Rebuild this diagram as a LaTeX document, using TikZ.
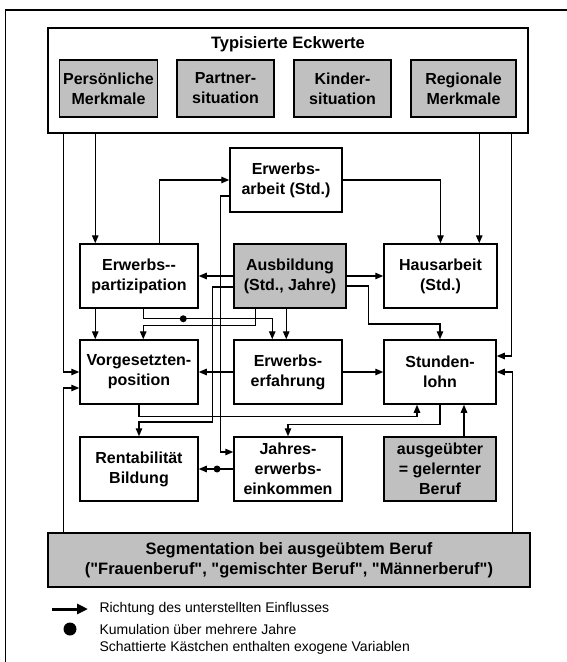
\documentclass[tikz,border=0pt]{standalone}
\usepackage{fontspec}
\setmainfont{Liberation Sans}[Ligatures=TeXOff]
\usetikzlibrary{arrows.meta}
\definecolor{exogray}{RGB}{192,192,192}
\begin{document}
\begin{tikzpicture}[x=1pt,y=-1pt,
  box/.style={shape=rectangle,draw=black,fill=white,line width=1.5pt,inner sep=0pt,align=center,font=\fontsize{16}{20}\selectfont\bfseries},
  exo/.style={box,fill=exogray},
  arr/.style={-{Triangle[length=8pt,width=6.5pt]},line width=1.3pt},
  kumul/.style={shape=circle,fill=black,inner sep=0pt,minimum size=7pt},
  legtext/.style={anchor=west,font=\fontsize{14}{16}\selectfont}]
\useasboundingbox (0,0) rectangle (567,662);
\draw[line width=1.5pt] (5.5,662) -- (5.5,10) -- (567,10);

% Eckwerte
\node[box,minimum width=480,minimum height=105] (t) at (288,80.5) {};
\node[font=\fontsize{16.5}{20}\selectfont\bfseries] (tt) at (288,44) {Typisierte Eckwerte};
\node[exo,minimum width=98,minimum height=57] (pm) at (108.5,88.5) {Persönliche\\Merkmale};
\node[exo,minimum width=97,minimum height=57] (ps) at (225.5,88.5) {Partner-\\situation};
\node[exo,minimum width=97,minimum height=57] (ks) at (342.5,88.5) {Kinder-\\situation};
\node[exo,minimum width=105,minimum height=57] (rm) at (463.5,88.5) {Regionale\\Merkmale};

% Kaestchen
\node[box,minimum width=112,minimum height=64] (ea) at (286,180) {Erwerbs-\\arbeit (Std.)};
\node[box,minimum width=118,minimum height=64] (ep) at (139,276) {Erwerbs--\\partizipation};
\node[exo,minimum width=112,minimum height=64] (ab) at (290,276) {Ausbildung\\(Std., Jahre)};
\node[box,minimum width=113,minimum height=64] (ha) at (440.5,276) {Hausarbeit\\(Std.)};
\node[box,minimum width=118,minimum height=64] (vp) at (139,372) {Vorgesetzten-\\position};
\node[box,minimum width=108,minimum height=64] (ee) at (288,372) {Erwerbs-\\erfahrung};
\node[box,minimum width=112,minimum height=64] (sl) at (440,372) {Stunden-\\lohn};
\node[box,minimum width=118,minimum height=64] (rb) at (139,469) {Rentabilität\\Bildung};
\node[box,minimum width=108,minimum height=64] (je) at (288,469) {Jahres-\\erwerbs-\\einkommen};
\node[exo,minimum width=112,minimum height=64] (ag) at (440,469) {ausgeübter\\= gelernter\\Beruf};
\node[exo,minimum width=482,minimum height=54,font=\fontsize{16.5}{20}\selectfont\bfseries] (sg) at (289,560) {Segmentation bei ausgeübtem Beruf\\("Frauenberuf", "gemischter Beruf", "Männerberuf")};

% Eckwerte -> ...
\draw[arr] ([xshift=16]t.south west) |- (vp.west);
\draw[arr] ([xshift=48]t.south west) -- ([xshift=16]ep.north west);
\draw[arr] ([xshift=432]t.south west) -- ([xshift=96]ha.north west);
\draw[arr] ([xshift=464]t.south west) |- ([yshift=16]sl.east);
% Segmentation -> ...
\draw[arr] ([xshift=16]sg.north west) |- ([yshift=-16]vp.west);
\draw[arr] ([xshift=-18]sg.north east) |- (sl.east);
% Erwerbsarbeit
\draw[arr] ([xshift=80]ep.north west) |- (ea.west);
\draw[arr] (ea.east) -| (ha.north);
\draw[arr] ([yshift=-16]ea.west) -- ++(-9,0) |- ([yshift=17]je.west);
% Ausbildung
\draw[arr] (ab.west) -- (ep.east);
\draw[arr] (ab.east) -- (ha.west);
\draw[arr] ([yshift=-11]ab.west) -- ++(-21,0) -- ++(0,135) -| (rb.north);
\draw[arr] ([yshift=-10]ab.east) -- ++(22,0) -- ++(0,38) -| (sl.north);
\draw[arr] ([xshift=22]ab.south west) -- ++(0,17) -| ([xshift=64]vp.north west);
\draw[arr] ([xshift=53]ab.south west) -- ([xshift=53]ee.north west);
% Erwerbspartizipation
\draw[arr] ([xshift=16]ep.south west) -- ([xshift=16]vp.north west);
\draw[arr] ([xshift=64]ep.south west) -- ++(0,10) coordinate (k1) -| ([xshift=39]ee.north west);
\node[kumul] (d1) at ([xshift=40]k1) {};
% Erwerbserfahrung, Lohn
\draw[arr] (ee.west) -- (vp.east);
\draw[arr] (ee.east) -- (sl.west);
\draw[arr] (vp.south) -- ++(0,12) -| ([xshift=-23]sl.south);
\draw[arr] (sl.south) -- ++(0,20) -| (je.north);
\draw[arr] ([xshift=24]ag.north) -- ([xshift=24]sl.south);
\draw[arr] (je.west) -- node[kumul,pos=0.47] (d2) {} (rb.east);

% Legende
\coordinate (la) at (52,609);
\coordinate (lb) at (88,609);
\draw[-{Triangle[length=11pt,width=10pt]},line width=3pt] (la) -- (lb);
\node[kumul,minimum size=13pt] (ld) at (70,629) {};
\node[legtext] (l1) at (96,609) {Richtung des unterstellten Einflusses};
\node[legtext] (l2) at (96,629) {Kumulation über mehrere Jahre};
\node[legtext] (l3) at (96,648) {Schattierte Kästchen enthalten exogene Variablen};
\end{tikzpicture}
\end{document}
